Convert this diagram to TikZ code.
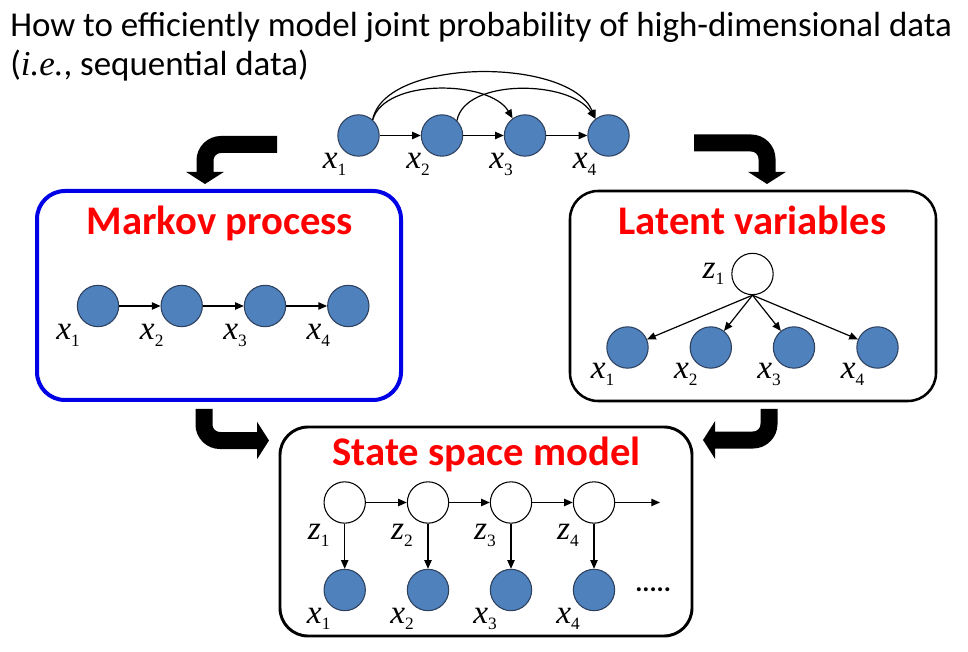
\documentclass[tikz,border=0pt]{standalone}
\usepackage{fontspec}
\setmainfont{Carlito}
\newfontfamily\serifx{Liberation Serif}
\usetikzlibrary{arrows.meta,calc}
\definecolor{nodeblue}{RGB}{79,129,189}
\definecolor{nodeedge}{RGB}{45,65,95}
\definecolor{boxblue}{RGB}{0,0,230}
\newcommand{\vlab}[2]{{\serifx\itshape #1}\raisebox{-5pt}{\serifx\fontsize{13pt}{13pt}\selectfont #2}}
\begin{document}
\begin{tikzpicture}[x=0.75pt,y=-0.75pt,
  obs/.style={circle,fill=nodeblue,draw=nodeedge,line width=0.8pt,minimum size=31pt,inner sep=0pt},
  lat/.style={circle,fill=white,draw=black,line width=0.8pt,minimum size=31pt,inner sep=0pt},
  arr/.style={-{Triangle[length=6.5pt,width=5.5pt]},line width=0.9pt},
  lab/.style={anchor=base,inner sep=0pt,font=\fontsize{25pt}{25pt}\selectfont},
  ttl/.style={anchor=base,inner sep=0pt,text=red,font=\bfseries\fontsize{30.5pt}{30.5pt}\selectfont},
  head/.style={anchor=base west,inner sep=0pt,font=\fontsize{26.2pt}{26.2pt}\selectfont},
  bendarrow/.style={line width=12.75pt,rounded corners=12pt,-{Triangle[length=9pt,width=27.75pt]}},
  ]
\useasboundingbox (0,0) rectangle (968,652);
\fill[white] (0,0) rectangle (968,652);

% heading
\node[head] (h1) at (10,37) {How to efficiently model joint probability of high-dimensional data};
\node[head] (h2) at (10,76) {({\serifx\itshape i.e.}, sequential data)};

% top graph
\foreach \i/\x in {1/358.5,2/442,3/525,4/608.5}{
  \node[obs] (t\i) at (\x,135.5) {};
  \node[lab] (tl\i) at ($(t\i)+(-24,33.5)$) {\vlab{x}{\i}};
}
\draw[arr] (t1) -- (t2);
\draw[arr] (t2) -- (t3);
\draw[arr] (t3) -- (t4);
\draw[arr] (t1.48) .. controls (385,78) and (490,80) .. (t3.126);
\draw[arr] (t1.48) .. controls (385,57) and (570,57) .. (t4.128);
\draw[arr] (t2.45) .. controls (465,78) and (570,80) .. (t4.128);

% bent arrows
\draw[bendarrow] (277,144.5) -- (205,144.5) -- (205,184);
\draw[bendarrow] (694,143) -- (767,143) -- (767,184);
\draw[bendarrow] (204,409) -- (204,440.5) -- (269,440.5);
\draw[bendarrow] (769,409) -- (769,440) -- (703,440);

% Markov process box
\draw[boxblue,line width=3pt,rounded corners=21pt] (37,191) rectangle (401,400);
\node[ttl] (mt) at (220,235) {Markov process};
\foreach \i/\x in {1/98,2/181.7,3/265,4/348.3}{
  \node[obs] (m\i) at (\x,306) {};
  \node[lab] (ml\i) at ($(m\i)+(-30,34)$) {\vlab{x}{\i}};
}
\draw[arr] (m1) -- (m2);
\draw[arr] (m2) -- (m3);
\draw[arr] (m3) -- (m4);

% Latent variables box
\draw[black,line width=1.9pt,rounded corners=21pt] (570,191) rectangle (936,401);
\node[ttl] (lt) at (752.5,235) {Latent variables};
\node[lat] (z) at (752.5,274) {};
\node[lab] (zl) at ($(z)+(-39,4.3)$) {\vlab{z}{1}};
\foreach \i/\x in {1/627.5,2/710.8,3/794,4/877.5}{
  \node[obs] (l\i) at (\x,347.5) {};
  \node[lab] (ll\i) at ($(l\i)+(-25,31)$) {\vlab{x}{\i}};
  \draw[arr] (z.south) -- (l\i);
}

% State space model box
\draw[black,line width=2.2pt,rounded corners=21pt] (280,427) rectangle (692,636);
\node[ttl] (st) at (486.5,465) {State space model};
\foreach \i/\x in {1/344.7,2/428,3/511,4/594}{
  \node[lat] (sz\i) at (\x,502.5) {};
  \node[obs] (sx\i) at (\x,590) {};
  \node[lab] (szl\i) at ($(sz\i)+(-26,37)$) {\vlab{z}{\i}};
  \node[lab] (sxl\i) at ($(sx\i)+(-26,33)$) {\vlab{x}{\i}};
  \draw[arr] (sz\i) -- (sx\i);
}
\draw[arr] (sz1) -- (sz2);
\draw[arr] (sz2) -- (sz3);
\draw[arr] (sz3) -- (sz4);
\coordinate (send) at (660,502.5);
\draw[arr] (sz4) -- (send);
\node[anchor=base west,inner sep=0pt,font=\bfseries\fontsize{20pt}{20pt}\selectfont] (dots) at (635,591) {.....};
\end{tikzpicture}
\end{document}
